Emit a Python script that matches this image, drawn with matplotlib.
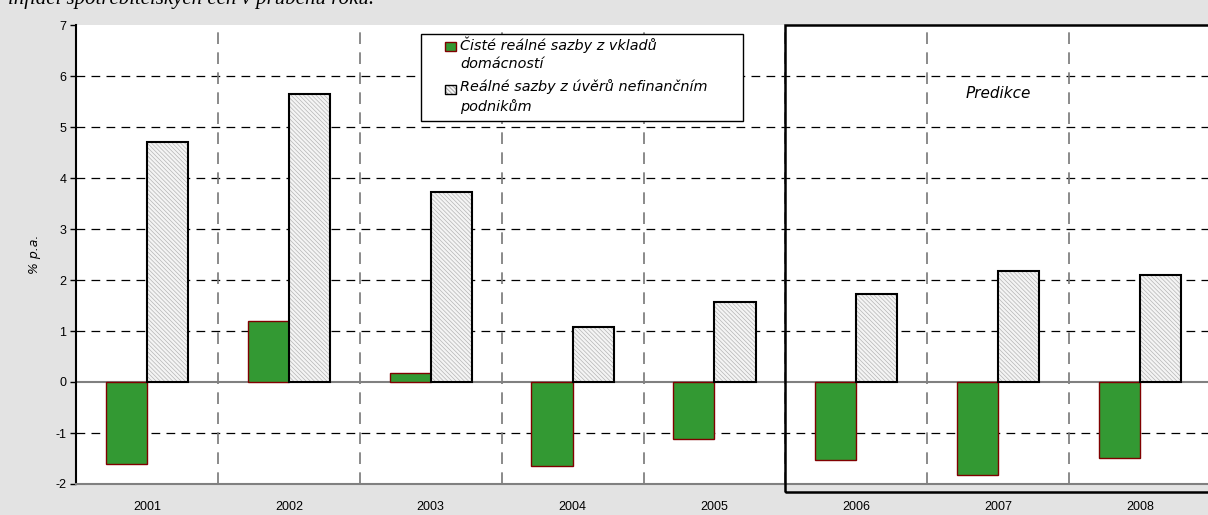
import numpy as np
import matplotlib
matplotlib.use('Agg')
import matplotlib.pyplot as plt
from matplotlib.patches import Rectangle

# data
years    = ['2001', '2002', '2003', '2004', '2005', '2006', '2007', '2008']
vklady   = [-1.60, 1.20, 0.18, -1.65, -1.12, -1.52, -1.82, -1.49]
uvery    = [4.70, 5.65, 3.72, 1.07, 1.57, 1.73, 2.17, 2.09]
lab_vkl  = 'Čisté reálné sazby z vkladů\ndomácností'
lab_uv   = 'Reálné sazby z úvěrů nefinančním\npodnikům'
caption  = 'inflací spotřebitelských cen v průběhu roku.'

plt.rcParams['font.family'] = ['Liberation Sans', 'DejaVu Sans']
plt.rcParams['axes.unicode_minus'] = False
plt.rcParams['hatch.linewidth'] = 0.5

W, H = 1208, 515
GREEN = '#339933'
HATCH = '\\\\\\\\\\\\\\\\'

def fx(px):
	return px / W

def fy(py):
	return 1 - py / H

fig = plt.figure(figsize=(W/100, H/100), dpi=100, facecolor='#e3e3e3')
ax = fig.add_axes([fx(76), fy(484), fx(1211 - 76), (484 - 25)/H])
ax.set_facecolor('white')

x  = np.arange(len(years))
bw = 0.29

# grid
for yy in range(-1, 7):
	if yy != 0:
		ax.axhline(yy, color='black', lw=0.9, ls=(0, (7, 5)), zorder=1)
for xx in np.arange(0.5, len(years) - 0.5):
	ax.axvline(xx, color='#777777', lw=1.2, ls=(0, (7, 5)), zorder=1)
ax.axhline(0, color='#808080', lw=1.5, zorder=1)

# bars
ax.bar(x - bw/2, vklady, bw, color=GREEN, edgecolor='#800000', lw=1.0, zorder=3)
ax.bar(x + bw/2, uvery, bw, color='#f4f4f4', edgecolor='#b5b5b5', hatch=HATCH, lw=0, zorder=3)
ax.bar(x + bw/2, uvery, bw, fill=False, edgecolor='black', lw=1.5, zorder=4)

ax.set_xlim(-0.5, len(years) - 0.5)
ax.set_ylim(-2, 7)
ax.set_yticks(range(-2, 8))
ax.set_xticks(x)
ax.set_xticklabels(years)
ax.tick_params(axis='x', length=0, pad=12, labelsize=9)
ax.tick_params(axis='y', length=4, width=1, pad=3, labelsize=9)

for s in ['top', 'right']:
	ax.spines[s].set_visible(False)
ax.spines['left'].set_linewidth(1.5)
ax.spines['bottom'].set_color('#808080')
ax.spines['bottom'].set_linewidth(1.5)

ax.set_ylabel('% p.a.', family=['DejaVu Sans'], style='italic', fontsize=9, labelpad=10)

# prediction box
ax.add_patch(Rectangle((4.5, -2.16), 3.3, 9.16, fill=False,
	edgecolor='black', lw=1.8, clip_on=False, zorder=5))
ax.text(6.0, 5.66, 'Predikce', family=['DejaVu Sans'], style='italic',
	fontsize=11, ha='center', va='center')

# legend (drawn by hand to match the Excel layout)
fig.add_artist(Rectangle((fx(421), fy(121)), fx(743 - 421), (121 - 34)/H,
	transform=fig.transFigure, facecolor='white', edgecolor='black', lw=1.0, zorder=10))
fig.add_artist(Rectangle((fx(445), fy(51)), fx(11), 9/H, transform=fig.transFigure,
	facecolor=GREEN, edgecolor='#800000', lw=1.0, zorder=11))
fig.add_artist(Rectangle((fx(445), fy(94)), fx(11), 9/H, transform=fig.transFigure,
	facecolor='#f4f4f4', edgecolor='#8a8a8a', hatch=HATCH, lw=0, zorder=11))
fig.add_artist(Rectangle((fx(445), fy(94)), fx(11), 9/H, transform=fig.transFigure,
	fill=False, edgecolor='black', lw=1.0, zorder=12))
for lab, ytop in [(lab_vkl, 36), (lab_uv, 79)]:
	fig.text(fx(460), fy(ytop), lab, family=['DejaVu Sans'], style='italic', fontsize=10.4,
		va='top', ha='left', linespacing=1.4, zorder=12)

# clipped caption at the top
fig.text(fx(8), fy(4), caption, family=['Liberation Serif', 'DejaVu Serif'],
	style='italic', fontsize=15, va='baseline', ha='left')

fig.savefig('out.png', dpi=100, facecolor=fig.get_facecolor())
